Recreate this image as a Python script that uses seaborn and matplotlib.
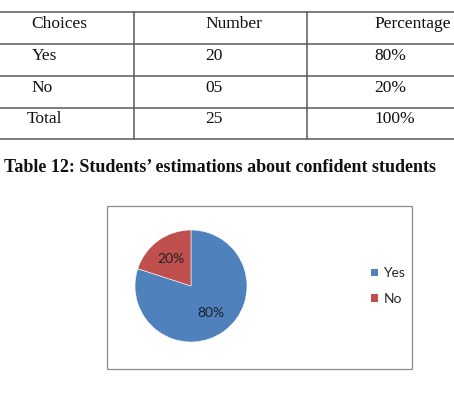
import seaborn as sns
import matplotlib.pyplot as plt
from matplotlib.patches import Patch, Rectangle

# dati della tabella
header = ['Choices', 'Number', 'Percentage']
choices = ['Yes', 'No', 'Total']
numbers = ['20', '05', '25']
percentages = ['80%', '20%', '100%']
caption = 'Table 12: Students\u2019 estimations about confident students'

# dati del grafico a torta
pie_labels = ['Yes', 'No']
pie_values = [80, 20]
pie_colors = ['#4F81BD', '#C0504D']

sns.set_theme(style='white')
plt.rcParams['font.family'] = ['Liberation Serif', 'DejaVu Serif']

W, H = 454, 398
fig = plt.figure(figsize=(W / 100, H / 100), dpi=100)
fig.patch.set_facecolor('white')

# asse di sfondo in pixel (y verso il basso)
bg = fig.add_axes([0, 0, 1, 1])
bg.set_xlim(0, W)
bg.set_ylim(H, 0)
bg.axis('off')

# tabella: linee orizzontali e verticali
row_lines = [12, 44, 76, 108, 139]
col_lines = [134, 307]
line_color = '#5a5a5a'
for y in row_lines:
    bg.plot([0, W], [y, y], color=line_color, lw=1.1, solid_capstyle='butt')
for x in col_lines:
    bg.plot([x, x], [row_lines[0], row_lines[-1]], color=line_color, lw=1.1)

col_x = [31, 205, 374]
row_y = [24, 56, 88, 119]
for j, txt in enumerate(header):
    bg.text(col_x[j], row_y[0], txt, fontsize=12.5, va='center', ha='left', color='#111111')
choice_x = [32, 31, 27]
for i in range(len(choices)):
    bg.text(choice_x[i], row_y[i + 1], choices[i], fontsize=12.5, va='center', ha='left', color='#111111')
    bg.text(col_x[1], row_y[i + 1], numbers[i], fontsize=12.5, va='center', ha='left', color='#111111')
    bg.text(col_x[2], row_y[i + 1], percentages[i], fontsize=12.5, va='center', ha='left', color='#111111')

# didascalia
bg.text(4, 168, caption, fontsize=13, fontweight='bold', va='center', ha='left', color='#111111')

# cornice del grafico
bg.add_patch(Rectangle((107, 206), 305, 163, fill=False, edgecolor='#8c8c8c', lw=0.9))

# grafico a torta
cx, cy, r = 191, 286, 56
ax = fig.add_axes([(cx - r) / W, (H - cy - r) / H, 2 * r / W, 2 * r / H])
wedges, texts, autotexts = ax.pie(pie_values, colors=pie_colors, startangle=90, counterclock=False,
                                  autopct='%1.0f%%', pctdistance=0.6,
                                  wedgeprops={'edgecolor': 'white', 'linewidth': 0.4},
                                  textprops={'fontsize': 10, 'family': ['Lato', 'DejaVu Sans'],
                                             'color': '#1f1f2a'})
ax.set_xlim(-1, 1)
ax.set_ylim(-1, 1)
ax.set_aspect('equal')

# legenda
handles = [Patch(facecolor=c, edgecolor='none') for c in pie_colors]
bg.legend(handles, pie_labels, loc='center left', bbox_to_anchor=(364, 286), bbox_transform=bg.transData,
          frameon=False, prop={'family': ['Lato', 'DejaVu Sans'], 'size': 10},
          handlelength=0.5, handleheight=0.5, handletextpad=0.4, labelspacing=0.95, borderpad=0)

fig.savefig('out.png', dpi=100)
